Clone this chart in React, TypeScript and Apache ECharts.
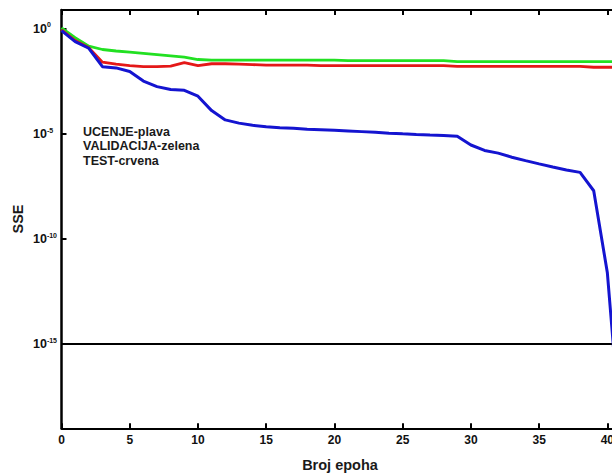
import React, { useEffect, useRef } from 'react';
import * as echarts from 'echarts';

// Training epochs
const epochs = [
  0, 1, 2, 3, 4, 5, 6, 7, 8, 9, 10, 11, 12, 13, 14, 15, 16, 17, 18, 19, 20,
  21, 22, 23, 24, 25, 26, 27, 28, 29, 30, 31, 32, 33, 34, 35, 36, 37, 38, 39, 40, 41,
];

// SSE – training set (UCENJE, blue)
const sseTrain = [
  8.3e-1, 2.5e-1, 1.2e-1, 1.6e-2, 1.4e-2, 9.5e-3, 3.3e-3, 1.8e-3, 1.3e-3, 1.2e-3,
  6.3e-4, 1.3e-4, 4.7e-5, 3.3e-5, 2.6e-5, 2.2e-5, 2.0e-5, 1.9e-5, 1.7e-5, 1.6e-5,
  1.5e-5, 1.4e-5, 1.3e-5, 1.2e-5, 1.1e-5, 1.02e-5, 9.5e-6, 8.9e-6, 8.5e-6, 7.9e-6,
  3.0e-6, 1.66e-6, 1.23e-6, 7.9e-7, 5.4e-7, 3.8e-7, 2.7e-7, 1.95e-7, 1.5e-7, 2.0e-8,
  2.5e-12, 3.2e-20,
];

// SSE – validation set (VALIDACIJA, green)
const sseValid = [
  1.12, 3.8e-1, 1.5e-1, 1.05e-1, 8.9e-2, 7.9e-2, 6.9e-2, 6.0e-2, 5.2e-2, 4.5e-2,
  3.5e-2, 3.3e-2, 3.3e-2, 3.3e-2, 3.3e-2, 3.3e-2, 3.3e-2, 3.3e-2, 3.3e-2, 3.3e-2,
  3.3e-2, 3.1e-2, 3.1e-2, 3.1e-2, 3.1e-2, 3.1e-2, 3.1e-2, 3.1e-2, 3.1e-2, 2.8e-2,
  2.8e-2, 2.8e-2, 2.8e-2, 2.8e-2, 2.8e-2, 2.8e-2, 2.8e-2, 2.8e-2, 2.8e-2, 2.8e-2,
  2.8e-2, 2.8e-2,
];

// SSE – test set (TEST, red)
const sseTest = [
  8.9e-1, 2.8e-1, 1.26e-1, 2.6e-2, 2.1e-2, 1.8e-2, 1.6e-2, 1.6e-2, 1.7e-2, 2.5e-2,
  1.8e-2, 2.2e-2, 2.2e-2, 2.1e-2, 2.0e-2, 1.9e-2, 1.9e-2, 1.9e-2, 1.9e-2, 1.8e-2,
  1.8e-2, 1.8e-2, 1.8e-2, 1.8e-2, 1.8e-2, 1.8e-2, 1.8e-2, 1.8e-2, 1.8e-2, 1.66e-2,
  1.66e-2, 1.66e-2, 1.66e-2, 1.66e-2, 1.66e-2, 1.66e-2, 1.66e-2, 1.66e-2, 1.66e-2, 1.5e-2,
  1.5e-2, 1.5e-2,
];

// Performance goal
const goal = 1e-15;

// Axis ticks
const xTicks = [0, 5, 10, 15, 20, 25, 30, 35, 40];
const yTickExponents = [0, -5, -10, -15];

const legendLines = ['UCENJE-plava', 'VALIDACIJA-zelena', 'TEST-crvena'];

const FONT = '"Liberation Sans", Arial, Helvetica, sans-serif';

export default function App() {
  const ref = useRef<HTMLDivElement>(null);

  useEffect(() => {
    if (!ref.current) return;
    const chart = echarts.init(ref.current, undefined, { renderer: 'svg' });

    const toLog = (arr: number[]) => arr.map((v, i) => [epochs[i], Math.log10(v)]);

    const axisCommon = {
      type: 'value' as const,
      min: 0,
      max: 40.34,
      interval: 5,
      splitLine: { show: false },
      axisLine: { show: true, onZero: false, lineStyle: { color: '#000', width: 2 } },
      axisTick: {
        show: true,
        inside: true,
        length: 5,
        customValues: xTicks,
        lineStyle: { color: '#000', width: 2 },
      },
    };

    const option: any = {
      animation: false,
      backgroundColor: '#fff',
      grid: {
        left: 61.5,
        right: 0,
        top: 10,
        bottom: 45.7,
        containLabel: false,
        outerBoundsMode: 'none',
      },
      xAxis: [
        {
          ...axisCommon,
          position: 'bottom',
          axisLabel: {
            show: true,
            margin: 6,
            customValues: xTicks,
            color: '#111',
            fontSize: 12,
            fontWeight: 'bold',
            fontFamily: FONT,
            hideOverlap: false,
            formatter: (v: number) => {
              const r = Math.round(v);
              if (Math.abs(v - r) > 1e-6 || r % 5 !== 0) return '';
              return String(r);
            },
          },
        },
        {
          ...axisCommon,
          position: 'top',
          axisLabel: { show: false },
        },
      ],
      yAxis: {
        type: 'value',
        min: -19,
        max: 0.9,
        splitNumber: 4,
        splitLine: { show: false },
        axisLine: { show: true, onZero: false, lineStyle: { color: '#000', width: 2.5 } },
        axisTick: {
          show: true,
          inside: true,
          length: 5,
          customValues: yTickExponents,
          lineStyle: { color: '#000', width: 2 },
        },
        axisLabel: {
          show: true,
          align: 'left',
          margin: 28.5,
          customValues: yTickExponents,
          formatter: (v: number) => {
            const r = Math.round(v);
            if (Math.abs(v - r) > 1e-6 || r % 5 !== 0) return '';
            return `{b|10}{s|${r}}`;
          },
          rich: {
            b: {
              fontSize: 12.5,
              fontWeight: 'bold',
              color: '#111',
              fontFamily: FONT,
              lineHeight: 15,
            },
            s: {
              fontSize: 7,
              fontWeight: 'bold',
              color: '#111',
              fontFamily: FONT,
              verticalAlign: 'top',
            },
          },
        },
      },
      series: [
        {
          name: 'VALIDACIJA',
          type: 'line',
          xAxisIndex: 0,
          data: toLog(sseValid),
          showSymbol: false,
          symbol: 'none',
          clip: true,
          lineStyle: { color: '#22e022', width: 2.8 },
          z: 3,
        },
        {
          name: 'TEST',
          type: 'line',
          xAxisIndex: 0,
          data: toLog(sseTest),
          showSymbol: false,
          symbol: 'none',
          clip: true,
          lineStyle: { color: '#e41818', width: 2.8 },
          z: 4,
        },
        {
          name: 'UCENJE',
          type: 'line',
          xAxisIndex: 0,
          data: toLog(sseTrain),
          showSymbol: false,
          symbol: 'none',
          clip: true,
          lineStyle: { color: '#1414d0', width: 3 },
          z: 5,
          markLine: {
            silent: true,
            symbol: ['none', 'none'],
            label: { show: false },
            lineStyle: { color: '#000', width: 2, type: 'solid' },
            data: [{ yAxis: Math.log10(goal) }],
            z: 2,
          },
        },
      ],
      graphic: [
        ...legendLines.map((t, i) => ({
          type: 'text',
          left: 83,
          top: 125 + i * 14.9,
          style: {
            text: t,
            fill: '#1a1a1a',
            font: `bold 12.5px ${FONT}`,
          },
        })),
        {
          type: 'text',
          x: 340,
          y: 465,
          style: {
            text: 'Broj epoha',
            fill: '#1a1a1a',
            font: `bold 14.5px ${FONT}`,
            textAlign: 'center',
            textVerticalAlign: 'middle',
          },
        },
        {
          type: 'text',
          x: 17.5,
          y: 219,
          rotation: Math.PI / 2,
          style: {
            text: 'SSE',
            fill: '#1a1a1a',
            font: `bold 14.5px ${FONT}`,
            textAlign: 'center',
            textVerticalAlign: 'middle',
          },
        },
      ],
    };

    chart.setOption(option);
    return () => chart.dispose();
  }, []);

  return (
    <div
      ref={ref}
      style={{ position: 'fixed', left: 0, top: 0, width: 612, height: 474, background: '#fff' }}
    />
  );
}
